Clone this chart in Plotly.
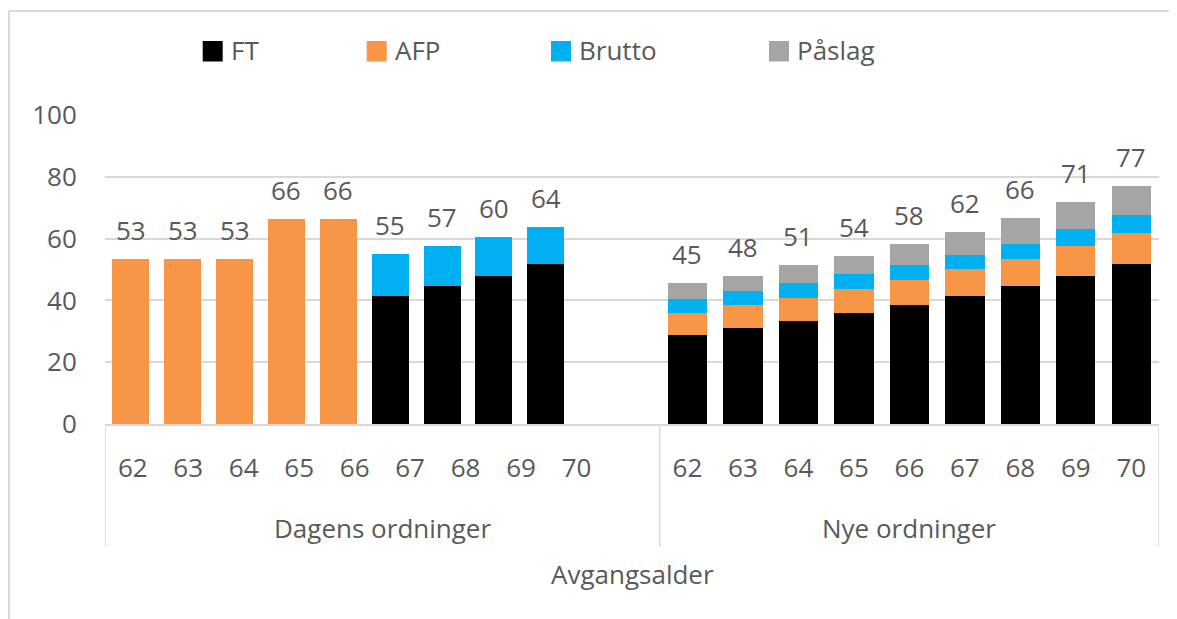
import plotly.graph_objects as go

# ---------------- data ----------------
ages = ["62", "63", "64", "65", "66", "67", "68", "69", "70"]
groups = ["Dagens ordninger", "Nye ordninger"]
series_names = ["FT", "AFP", "Brutto", "Påslag"]

# Dagens ordninger
dagens_ft = [0, 0, 0, 0, 0, 41.3, 44.7, 48.0, 51.7]
dagens_afp = [53.4, 53.4, 53.4, 66.2, 66.2, 0, 0, 0, 0]
dagens_brutto = [0, 0, 0, 0, 0, 13.7, 12.8, 12.4, 12.0]
dagens_paslag = [0, 0, 0, 0, 0, 0, 0, 0, 0]
dagens_totals = [53, 53, 53, 66, 66, 55, 57, 60, 64]

# Nye ordninger
nye_ft = [28.9, 31.0, 33.4, 35.9, 38.4, 41.3, 44.8, 48.0, 51.7]
nye_afp = [6.9, 7.4, 7.5, 7.9, 8.3, 8.8, 8.5, 9.5, 10.0]
nye_brutto = [4.6, 4.6, 4.6, 4.7, 4.6, 4.5, 5.1, 5.6, 5.9]
nye_paslag = [5.1, 4.9, 5.8, 6.0, 7.0, 7.5, 8.2, 8.6, 9.5]
nye_totals = [45, 48, 51, 54, 58, 62, 66, 71, 77]

colors = ["#000000", "#F79646", "#00B0F0", "#A5A5A5"]
x_title = "Avgangsalder"

# ---------------- layout helpers ----------------
PAGE_W, PAGE_H = 1177, 619
OFF = 8  # default page body margin
W, H = PAGE_W - OFF, PAGE_H - OFF
L, R, T, B = 105, 1159, 115, 424  # plot area in page pixels
n = len(ages)
g1_label_x = [0.5 + k for k in range(n)]
g1_bar_x = [0.465 + 0.935 * k for k in range(n)]
g2_x = [10.5 + k for k in range(n)]
x_range = [0, 19]


def xp(px):
    return (px - L) / (R - L)


def yp(py):
    return (B - py) / (B - T)


FONT = "Open Sans"
TXT = "#595959"
GRID = "#D9D9D9"
FS = 26

fig = go.Figure()
comp = [
    (dagens_ft, nye_ft),
    (dagens_afp, nye_afp),
    (dagens_brutto, nye_brutto),
    (dagens_paslag, nye_paslag),
]
bar_x = g1_bar_x + g2_x
widths = [0.667] * n + [0.71] * n
for name, color, (d, nv) in zip(series_names, colors, comp):
    fig.add_trace(go.Bar(
        x=bar_x, y=d + nv, name=name, width=widths,
        marker=dict(color=color, line=dict(width=0)),
        showlegend=False, hoverinfo="name+y",
    ))

annotations = []
# totals above bars
stack_tops = [sum(v) for v in zip(*(d + nv for d, nv in comp))]
for x, top, lab in zip(bar_x, stack_tops, dagens_totals + nye_totals):
    annotations.append(dict(x=x, y=top, xref="x", yref="y", text=str(lab),
                            showarrow=False, xanchor="center", yanchor="middle", yshift=29,
                            font=dict(family=FONT, size=FS, color=TXT)))

# group labels
for cx, g in zip([xp((L + 659.5) / 2), xp((659.5 + R) / 2)], groups):
    annotations.append(dict(x=cx, y=yp(528), xref="paper", yref="paper", text=g,
                            showarrow=False, xanchor="center", yanchor="middle",
                            font=dict(family=FONT, size=FS, color=TXT)))
# axis title
annotations.append(dict(x=0.5, y=yp(574), xref="paper", yref="paper", text=x_title,
                        showarrow=False, xanchor="center", yanchor="middle",
                        font=dict(family=FONT, size=FS, color=TXT)))

# custom legend
legend_sq_left = [202.7, 366.7, 551, 769]
shapes = []
for left, name, color in zip(legend_sq_left, series_names, colors):
    shapes.append(dict(type="rect", xref="paper", yref="paper",
                       x0=xp(left), x1=xp(left + 20), y0=yp(61.5), y1=yp(41),
                       fillcolor=color, line=dict(width=0)))
    annotations.append(dict(x=xp(left + 26), y=yp(49.5), xref="paper", yref="paper",
                            text=name, showarrow=False, xanchor="left", yanchor="middle",
                            font=dict(family=FONT, size=FS, color=TXT)))

# category dividers
for xv in [0, 10, 19]:
    shapes.append(dict(type="line", xref="x", yref="paper", x0=xv, x1=xv,
                       y0=0, y1=yp(547), line=dict(color=GRID, width=1.5)))
# outer chart frame (top and left edges)
shapes.append(dict(type="line", xref="paper", yref="paper", x0=xp(9), x1=xp(PAGE_W + 5),
                   y0=yp(11), y1=yp(11), line=dict(color=GRID, width=2)))
shapes.append(dict(type="line", xref="paper", yref="paper", x0=xp(9), x1=xp(9),
                   y0=yp(11), y1=yp(PAGE_H + 5), line=dict(color=GRID, width=2)))

fig.update_layout(
    width=W, height=H,
    margin=dict(l=L - OFF, r=PAGE_W - R, t=T - OFF, b=PAGE_H - B, autoexpand=False),
    paper_bgcolor="white", plot_bgcolor="white",
    barmode="stack", bargap=0,
    showlegend=False,
    font=dict(family=FONT, size=FS, color=TXT),
    xaxis=dict(range=x_range, tickmode="array", tickvals=g1_label_x + g2_x,
               ticktext=ages + ages, ticks="outside", ticklen=20,
               tickcolor="rgba(0,0,0,0)", showgrid=False, zeroline=False,
               showline=True, linecolor=GRID, linewidth=1.5, automargin=False,
               tickfont=dict(family=FONT, size=FS, color=TXT), fixedrange=True),
    yaxis=dict(range=[0, 100], tickvals=[0, 20, 40, 60, 80, 100],
               showgrid=True, gridcolor=GRID, gridwidth=1.5, automargin=False,
               zeroline=False, showline=False, ticks="outside", ticklen=22,
               tickcolor="rgba(0,0,0,0)",
               tickfont=dict(family=FONT, size=FS, color=TXT), fixedrange=True),
    annotations=annotations, shapes=shapes,
)

fig.write_html("out.html")
